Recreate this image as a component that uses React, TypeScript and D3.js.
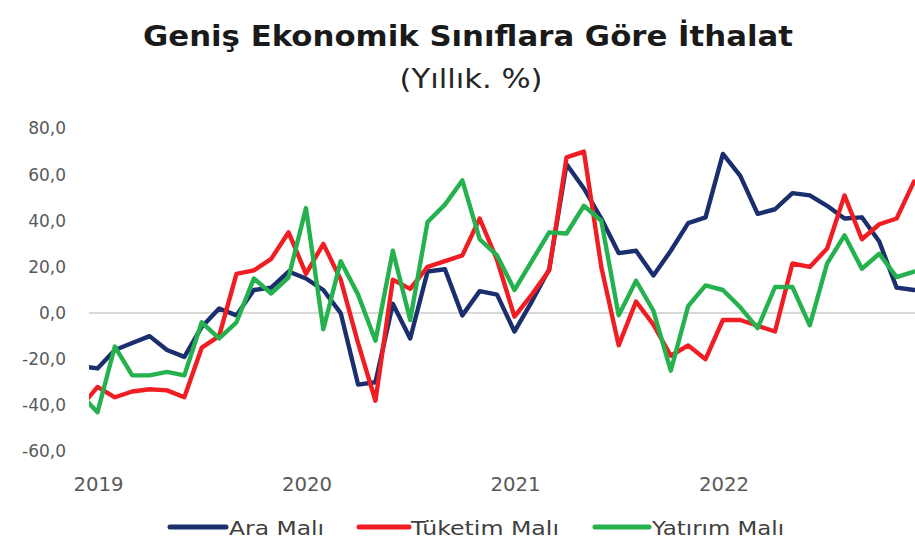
import React from "react";
import * as d3 from "d3";

// Months: Dec 2018 (index -1) then Jan 2019 .. Dec 2022 (index 0..47)
const startIndex = -1;
const araMali = [
  -23,
  -24, -16, -13, -10, -16, -19, -6, 2, -1, 10, 11, 18,
  15, 10, 0, -31, -30, 4, -11, 18, 19, -1, 9.5, 8,
  -8, 5, 19, 64.5, 54, 41, 26, 27, 16.3, 27, 39, 41.5,
  69, 59.5, 43, 45, 52, 51, 46.5, 41, 41.5, 31, 11, 10,
];
const tuketimMali = [
  -41,
  -32, -36.5, -34, -33, -33.5, -36.5, -15, -10, 17, 18.5, 23.5, 35,
  17, 30, 14.5, -13, -38, 14.5, 10.5, 20, 22.5, 25, 41, 23,
  -1.5, 8, 18.5, 67.5, 70, 20, -14, 5, -5, -18.5, -14, -20,
  -3, -3, -5.5, -8, 21.5, 20, 28, 51, 32, 38.5, 41, 57,
];
const yatirimMali = [
  -35,
  -43, -14.5, -27, -27, -25.5, -27, -4, -11, -4, 15, 8.5, 15.5,
  45.5, -7, 22.5, 8, -12, 27, -3, 39.5, 47, 57.5, 32, 25,
  10, 22.5, 35, 34.5, 46.5, 40, -1, 14, 1, -25, 3, 12,
  10, 2.5, -6.5, 11.3, 11.3, -5.3, 21.5, 33.7, 19.2, 25.7, 15.6, 18,
];
const yearLabels = ["2019", "2020", "2021", "2022"];
const yearIndex = [0, 12, 24, 36];
const yTicks = [80, 60, 40, 20, 0, -20, -40, -60];
const seriesNames = ["Ara Malı", "Tüketim Malı", "Yatırım Malı"];
const seriesColors = ["#1B2E6E", "#F01E23", "#25B14E"];

const W = 915;
const H = 548;

export default function App() {
  const x = d3.scaleLinear().domain([0, 47]).range([97.5, 914]);
  const y = d3.scaleLinear().domain([-60, 80]).range([451.5, 128.5]);
  const plotLeft = 89;
  const plotRight = 915;

  const allSeries = [araMali, tuketimMali, yatirimMali];
  const line = d3
    .line<number>()
    .x((_, i) => x(i + startIndex))
    .y((d) => y(d));

  const fmt = (v: number) => d3.format(".1f")(v).replace(".", ",").replace("−", "-");
  const font = "'DejaVu Sans', 'Liberation Sans', sans-serif";

  const legendItems = [
    { x1: 170, x2: 226, tx: 229, w: 95 },
    { x1: 359, x2: 409, tx: 411, w: 148 },
    { x1: 595, x2: 649, tx: 652, w: 132 },
  ];

  return (
    <svg
      width={W}
      height={H}
      style={{ position: "absolute", left: 0, top: 0, background: "#fff" }}
    >
      <defs>
        <clipPath id="plotClip">
          <rect x={plotLeft} y={100} width={plotRight - plotLeft} height={380} />
        </clipPath>
      </defs>
      <text
        x={468}
        y={46}
        textAnchor="middle"
        fontFamily={font}
        fontWeight="bold"
        fontSize={28}
        fill="#1a1a1a"
        textLength={650}
        lengthAdjust="spacingAndGlyphs"
      >
        Geniş Ekonomik Sınıflara Göre İthalat
      </text>
      <text
        x={471}
        y={88}
        textAnchor="middle"
        fontFamily={font}
        fontSize={27}
        fill="#262626"
        textLength={143}
        lengthAdjust="spacingAndGlyphs"
      >
        (Yıllık. %)
      </text>

      {yTicks.map((t) => (
        <text
          key={t}
          x={66}
          y={y(t)}
          dy="0.35em"
          textAnchor="end"
          fontFamily={font}
          fontSize={17}
          fill="#595959"
        >
          {fmt(t)}
        </text>
      ))}

      <line
        x1={plotLeft}
        x2={plotRight}
        y1={y(0)}
        y2={y(0)}
        stroke="#D9D9D9"
        strokeWidth={2}
      />

      {yearLabels.map((lab, i) => (
        <text
          key={lab}
          x={x(yearIndex[i]) + 1}
          y={491}
          textAnchor="middle"
          fontFamily={font}
          fontSize={19}
          fill="#595959"
          textLength={50}
          lengthAdjust="spacingAndGlyphs"
        >
          {lab}
        </text>
      ))}

      <g clipPath="url(#plotClip)">
        {allSeries.map((s, i) => (
          <path
            key={i}
            d={line(s) || ""}
            fill="none"
            stroke={seriesColors[i]}
            strokeWidth={4.4}
            strokeLinejoin="round"
            strokeLinecap="round"
          />
        ))}
      </g>

      {seriesNames.map((name, i) => (
        <g key={name}>
          <line
            x1={legendItems[i].x1}
            x2={legendItems[i].x2}
            y1={527}
            y2={527}
            stroke={seriesColors[i]}
            strokeWidth={5}
            strokeLinecap="round"
          />
          <text
            x={legendItems[i].tx}
            y={528}
            dy="0.35em"
            fontFamily={font}
            fontSize={20}
            fill="#404040"
            textLength={legendItems[i].w}
            lengthAdjust="spacingAndGlyphs"
          >
            {name}
          </text>
        </g>
      ))}
    </svg>
  );
}
